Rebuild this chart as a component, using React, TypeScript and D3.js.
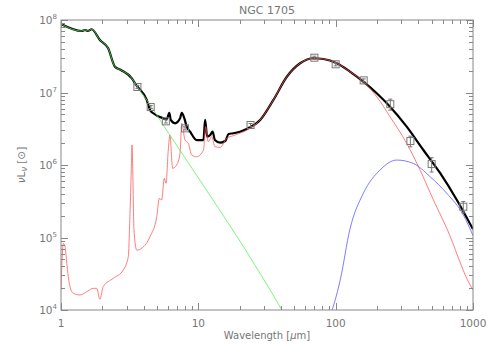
import React, { useEffect, useRef } from "react";
import * as d3 from "d3";

// stellar component (green)
const starWl = [1.0, 1.415, 1.5, 1.57, 1.67, 1.92, 2.2, 2.47, 2.73, 3.27, 3.52, 4.21, 5.86, 12.1, 22.1, 40.6, 50];
const starFlux = [8.8e7, 7.05e7, 7.28e7, 7.05e7, 7.45e7, 5.3e7, 4.1e7, 2.27e7, 2.04e7, 1.58e7, 1.27e7, 7.9e6, 3.04e6, 3.86e5, 6.7e4, 1.0e4, 5.0e3];

// total model (black)
const totalWl = [1.0, 1.415, 1.5, 1.57, 1.67, 1.92, 2.2, 2.47, 2.73, 3.27, 3.52, 4.21, 4.45, 4.7, 5.56, 5.89, 6.15, 6.3, 6.77, 7.36, 7.57, 7.91, 8.23, 8.71, 9.73, 10.9, 11.2, 11.6, 12.2, 12.7, 13.2, 14.4, 15.7, 16.6, 18.0, 20.1, 23.1, 28.2, 35.2, 44.1, 55.1, 68.9, 81.5, 102, 127, 159, 199, 249, 329, 435, 577, 763, 1000];
const totalFlux = [8.8e7, 7.05e7, 7.28e7, 7.05e7, 7.45e7, 5.3e7, 4.1e7, 2.27e7, 2.04e7, 1.58e7, 1.27e7, 7.9e6, 5.74e6, 5.17e6, 4.4e6, 4.27e6, 5.26e6, 4.18e6, 3.76e6, 4.4e6, 5.26e6, 4.4e6, 3.38e6, 2.88e6, 2.21e6, 2.21e6, 4.18e6, 2.46e6, 2.59e6, 2.88e6, 2.21e6, 2.03e6, 2.14e6, 2.68e6, 2.74e6, 2.88e6, 3.21e6, 4.18e6, 7.9e6, 1.65e7, 2.53e7, 2.97e7, 2.9e7, 2.53e7, 1.94e7, 1.41e7, 9.75e6, 6.37e6, 3.38e6, 1.61e6, 7.7e5, 3.29e5, 1.3e5];

// warm dust + PAH (red)
const warmWl = [1.0, 1.04, 1.07, 1.1, 1.13, 1.17, 1.23, 1.37, 1.57, 1.72, 1.82, 1.92, 2.03, 2.4, 2.84, 3.09, 3.18, 3.25, 3.29, 3.33, 3.4, 3.56, 3.87, 4.45, 4.98, 5.2, 5.41, 5.65, 5.82, 6.04, 6.21, 6.5, 6.95, 7.36, 7.57, 8.0, 8.45, 8.95, 9.73, 10.9, 11.3, 11.8, 12.5, 13.2, 14.4, 16.1, 18.0, 21.3, 23.8, 28.2, 35.2, 44.1, 55.1, 68.9, 81.5, 102, 127, 159, 199, 249, 329, 412, 515, 644, 953, 1000];
const warmFlux = [1.89e4, 8.3e4, 7.5e4, 4.6e4, 2.88e4, 2.01e4, 1.7e4, 1.61e4, 1.83e4, 1.99e4, 1.99e4, 1.41e4, 2.1e4, 2.73e4, 3.56e4, 5.44e4, 2.16e5, 8.5e5, 1.89e6, 8.5e5, 1.27e5, 6.7e4, 7.1e4, 1.03e5, 1.94e5, 3.47e5, 3.29e5, 6.56e5, 5.6e5, 1.61e6, 2.59e6, 9.0e5, 1.0e6, 1.45e6, 3.76e6, 2.21e6, 1.99e6, 1.37e6, 1.3e6, 1.61e6, 3.38e6, 2.09e6, 2.46e6, 1.79e6, 1.75e6, 2.33e6, 2.54e6, 2.88e6, 3.21e6, 4.18e6, 7.9e6, 1.65e7, 2.53e7, 2.97e7, 2.9e7, 2.53e7, 1.94e7, 1.41e7, 8.75e6, 4.63e6, 1.99e6, 8.5e5, 3.29e5, 1.34e5, 2.21e4, 1.9e4];

// cold dust (blue)
const coldWl = [89.5, 108, 127, 159, 210, 279, 368, 487, 644, 851, 1000];
const coldFlux = [7.3e3, 2.6e4, 1.3e5, 4.07e5, 8.5e5, 1.17e6, 1.05e6, 6.9e5, 4.07e5, 2.04e5, 1.06e5];

// photometry
const obsWl = [3.6, 4.5, 5.8, 8.0, 24, 70, 100, 160, 250, 350, 500, 850];
const obsFlux = [1.19e7, 6.3e6, 4.0e6, 3.2e6, 3.56e6, 3.02e7, 2.45e7, 1.47e7, 6.9e6, 2.14e6, 1.03e6, 2.66e5];
const obsErr = [6e5, 3e5, 2e5, 1.6e5, 1.8e5, 1.5e6, 1.2e6, 7e5, 1.2e6, 3.6e5, 2.3e5, 4.8e4];

const xTicks = [1, 10, 100, 1000];
const yTicks = [1e4, 1e5, 1e6, 1e7, 1e8];

const W = 491;
const H = 350;
const margin = { top: 20, right: 18, bottom: 40, left: 61 };
const axisColor = "#888";
const textColor = "#777";
const font = "DejaVu Sans, sans-serif";

export default function App() {
  const svgRef = useRef<SVGSVGElement>(null);

  useEffect(() => {
    const svg = d3.select(svgRef.current);
    svg.selectAll("*").remove();
    const iw = W - margin.left - margin.right;
    const ih = H - margin.top - margin.bottom;

    const x = d3.scaleLog().domain([1, 1000]).range([0, iw]);
    const y = d3.scaleLog().domain([1e4, 1e8]).range([ih, 0]);

    svg.append("defs").append("clipPath").attr("id", "plotclip")
      .append("rect").attr("width", iw).attr("height", ih);

    const g = svg.append("g").attr("transform", `translate(${margin.left},${margin.top})`);
    const plot = g.append("g").attr("clip-path", "url(#plotclip)");

    const line = d3.line<[number, number]>()
      .x(d => x(d[0]))
      .y(d => y(d[1]))
      .curve(d3.curveMonotoneX);
    const zip = (a: number[], b: number[]) => a.map((v, i) => [v, b[i]] as [number, number]);

    plot.append("path").attr("d", line(zip(totalWl, totalFlux)))
      .attr("fill", "none").attr("stroke", "#000").attr("stroke-width", 2.2);
    plot.append("path").attr("d", line(zip(warmWl, warmFlux)))
      .attr("fill", "none").attr("stroke", "#ff5555").attr("stroke-width", 0.9).attr("stroke-opacity", 0.85);
    plot.append("path").attr("d", line(zip(starWl, starFlux)))
      .attr("fill", "none").attr("stroke", "#55f055").attr("stroke-width", 0.9).attr("stroke-opacity", 0.85);
    plot.append("path").attr("d", line(zip(coldWl, coldFlux)))
      .attr("fill", "none").attr("stroke", "#5555ff").attr("stroke-width", 0.9).attr("stroke-opacity", 0.85);

    // photometry points
    const pts = g.append("g");
    obsWl.forEach((w, i) => {
      const cx = x(w);
      const cy = y(obsFlux[i]);
      pts.append("line")
        .attr("x1", cx).attr("x2", cx)
        .attr("y1", y(obsFlux[i] + obsErr[i])).attr("y2", y(obsFlux[i] - obsErr[i]))
        .attr("stroke", "#777").attr("stroke-width", 1);
      [obsFlux[i] + obsErr[i], obsFlux[i] - obsErr[i]].forEach(v => {
        pts.append("line")
          .attr("x1", cx - 2).attr("x2", cx + 2)
          .attr("y1", y(v)).attr("y2", y(v))
          .attr("stroke", "#777").attr("stroke-width", 1);
      });
      pts.append("rect")
        .attr("x", cx - 3.5).attr("y", cy - 3.5)
        .attr("width", 7).attr("height", 7)
        .attr("fill", "none").attr("stroke", "#777").attr("stroke-width", 1);
    });

    // frame
    g.append("rect").attr("width", iw).attr("height", ih)
      .attr("fill", "none").attr("stroke", axisColor).attr("stroke-width", 1);

    const ticks = g.append("g").attr("stroke", axisColor).attr("stroke-width", 1);
    const xMinor: number[] = [];
    for (let d = 1; d < 1000; d *= 10) for (let k = 2; k <= 9; k++) xMinor.push(d * k);
    const yMinor: number[] = [];
    for (let d = 1e4; d < 1e8; d *= 10) for (let k = 2; k <= 9; k++) yMinor.push(d * k);

    xTicks.concat(xMinor).forEach(t => {
      const len = xTicks.includes(t) ? 7 : 4;
      const px = Math.round(x(t)) + 0.5;
      ticks.append("line").attr("x1", px).attr("x2", px).attr("y1", ih).attr("y2", ih - len);
      ticks.append("line").attr("x1", px).attr("x2", px).attr("y1", 0).attr("y2", len);
    });
    yTicks.concat(yMinor).forEach(t => {
      const len = yTicks.includes(t) ? 7 : 4;
      const py = Math.round(y(t)) + 0.5;
      ticks.append("line").attr("x1", 0).attr("x2", len).attr("y1", py).attr("y2", py);
      ticks.append("line").attr("x1", iw).attr("x2", iw - len).attr("y1", py).attr("y2", py);
    });

    // tick labels
    g.selectAll(".xl").data(xTicks).join("text")
      .attr("x", d => x(d)).attr("y", ih + 17)
      .attr("text-anchor", "middle")
      .attr("font-family", font).attr("font-size", 10.5).attr("fill", textColor)
      .text(d => String(d));

    const yl = g.selectAll(".yl").data(yTicks).join("text")
      .attr("x", -4).attr("y", d => y(d) + 4)
      .attr("text-anchor", "end")
      .attr("font-family", font).attr("font-size", 10.5).attr("fill", textColor);
    yl.append("tspan").text("10");
    yl.append("tspan").attr("dy", -5).attr("font-size", 7).text(d => String(Math.round(Math.log10(d))));

    // axis titles
    const xt = g.append("text")
      .attr("x", iw / 2).attr("y", ih + 29)
      .attr("text-anchor", "middle")
      .attr("font-family", font).attr("font-size", 10).attr("fill", textColor);
    xt.append("tspan").text("Wavelength  [");
    xt.append("tspan").attr("font-style", "italic").text("μ");
    xt.append("tspan").text("m]");

    const yt = g.append("text")
      .attr("transform", `translate(${-36},${ih / 2}) rotate(-90)`)
      .attr("text-anchor", "middle")
      .attr("font-family", font).attr("font-size", 10.5).attr("fill", textColor);
    yt.append("tspan").attr("font-style", "italic").text("ν");
    yt.append("tspan").text("L");
    yt.append("tspan").attr("font-style", "italic").attr("dy", 2).attr("font-size", 8).text("ν");
    yt.append("tspan").attr("dy", -2).text(" [⊙]");

    svg.append("text")
      .attr("x", margin.left + iw / 2).attr("y", 14)
      .attr("text-anchor", "middle")
      .attr("font-family", font).attr("font-size", 11).attr("fill", textColor)
      .text("NGC 1705");
  }, []);

  return (
    <svg ref={svgRef} width={W} height={H}
      style={{ position: "absolute", left: 0, top: 0, background: "#fff" }} />
  );
}
